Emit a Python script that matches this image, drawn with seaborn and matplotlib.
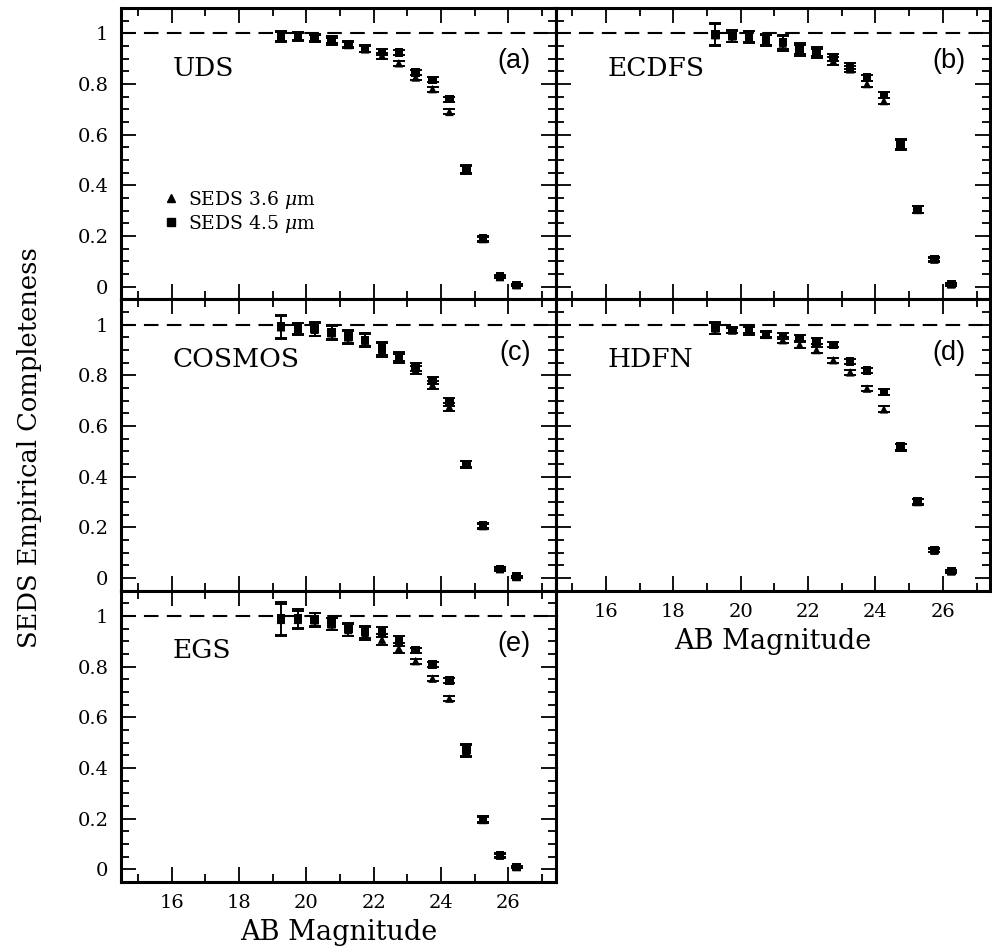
import numpy as np
import pandas as pd
import matplotlib
matplotlib.use("Agg")
import matplotlib.pyplot as plt
import seaborn as sns
from matplotlib.lines import Line2D
from matplotlib.ticker import MultipleLocator, FuncFormatter

# ---------------- data ----------------
mag = [19.25, 19.75, 20.25, 20.75, 21.25, 21.75, 22.25, 22.75,
       23.25, 23.75, 24.25, 24.75, 25.25, 25.75, 26.25]

fields = ["UDS", "ECDFS", "COSMOS", "HDFN", "EGS"]
panel_tags = ["(a)", "(b)", "(c)", "(d)", "(e)"]

uds_45 = [0.988, 0.990, 0.984, 0.976, 0.957, 0.940, 0.927, 0.925, 0.845, 0.816, 0.740, 0.464, 0.190, 0.040, 0.007]
uds_36 = [0.984, 0.986, 0.980, 0.968, 0.954, 0.937, 0.912, 0.882, 0.826, 0.780, 0.690, 0.460, 0.188, 0.038, 0.006]
uds_err = [0.020, 0.015, 0.015, 0.015, 0.012, 0.012, 0.012, 0.010, 0.010, 0.010, 0.010, 0.015, 0.010, 0.005, 0.004]

ecdfs_45 = [0.996, 0.990, 0.987, 0.976, 0.965, 0.940, 0.930, 0.905, 0.870, 0.825, 0.756, 0.562, 0.306, 0.109, 0.010]
ecdfs_36 = [0.993, 0.988, 0.985, 0.972, 0.960, 0.933, 0.920, 0.890, 0.858, 0.800, 0.733, 0.558, 0.303, 0.107, 0.009]
ecdfs_err = [0.043, 0.023, 0.023, 0.023, 0.028, 0.022, 0.018, 0.015, 0.012, 0.012, 0.012, 0.020, 0.014, 0.008, 0.005]

cosmos_45 = [0.992, 0.985, 0.983, 0.970, 0.953, 0.940, 0.907, 0.875, 0.834, 0.780, 0.695, 0.450, 0.207, 0.036, 0.005]
cosmos_36 = [0.990, 0.983, 0.980, 0.966, 0.950, 0.937, 0.900, 0.865, 0.822, 0.762, 0.675, 0.448, 0.205, 0.035, 0.004]
cosmos_err = [0.045, 0.023, 0.026, 0.028, 0.026, 0.026, 0.026, 0.018, 0.015, 0.015, 0.015, 0.012, 0.010, 0.006, 0.004]

hdfn_45 = [0.987, 0.979, 0.983, 0.963, 0.956, 0.946, 0.934, 0.920, 0.855, 0.818, 0.735, 0.518, 0.301, 0.110, 0.027]
hdfn_36 = [0.985, 0.977, 0.975, 0.960, 0.939, 0.921, 0.900, 0.860, 0.812, 0.748, 0.666, 0.515, 0.300, 0.108, 0.026]
hdfn_err = [0.022, 0.010, 0.015, 0.012, 0.012, 0.012, 0.012, 0.010, 0.010, 0.010, 0.012, 0.012, 0.010, 0.007, 0.005]

egs_45 = [0.990, 0.990, 0.986, 0.970, 0.948, 0.937, 0.937, 0.901, 0.865, 0.808, 0.745, 0.472, 0.197, 0.056, 0.010]
egs_36 = [0.985, 0.985, 0.983, 0.967, 0.945, 0.930, 0.907, 0.872, 0.822, 0.753, 0.674, 0.468, 0.195, 0.054, 0.009]
egs_err = [0.064, 0.036, 0.027, 0.024, 0.025, 0.025, 0.020, 0.020, 0.010, 0.010, 0.010, 0.023, 0.012, 0.008, 0.005]

c45 = [uds_45, ecdfs_45, cosmos_45, hdfn_45, egs_45]
c36 = [uds_36, ecdfs_36, cosmos_36, hdfn_36, egs_36]
errs = [uds_err, ecdfs_err, cosmos_err, hdfn_err, egs_err]

# ---------------- style ----------------
sns.set_theme(style="ticks")
plt.rcParams["font.family"] = ["DejaVu Serif"]
plt.rcParams["mathtext.fontset"] = "dejavuserif"
plt.rcParams["text.color"] = "black"
plt.rcParams["axes.labelcolor"] = "black"
plt.rcParams["xtick.color"] = "black"
plt.rcParams["ytick.color"] = "black"

fig = plt.figure(figsize=(9.92, 9.52), dpi=100)
gs = fig.add_gridspec(3, 2, left=121/992, right=990/992, top=1-8/952, bottom=1-882/952,
                      wspace=0, hspace=0)
positions = [(0, 0), (0, 1), (1, 0), (1, 1), (2, 0)]

for i, (r, c) in enumerate(positions):
    ax = fig.add_subplot(gs[r, c])
    df = pd.DataFrame({
        "mag": mag * 2,
        "comp": list(c36[i]) + list(c45[i]),
        "err": list(errs[i]) * 2,
        "band": ["3.6"] * len(mag) + ["4.5"] * len(mag),
    })
    ax.axhline(1.0, color="black", lw=1.5, ls=(0, (7, 4)), zorder=1)
    for band in ["3.6", "4.5"]:
        sub = df[df.band == band]
        ax.errorbar(sub["mag"], sub["comp"], yerr=sub["err"], fmt="none",
                    ecolor="black", elinewidth=1.2, capsize=4.5, capthick=1.4, zorder=2)
    sns.scatterplot(data=df, x="mag", y="comp", style="band",
                    markers={"3.6": "^", "4.5": "s"}, color="black",
                    s=38, edgecolor="black", linewidth=0, legend=False, ax=ax, zorder=3)

    ax.set_xlim(14.5, 27.4)
    ax.set_ylim(-0.05, 1.1)
    ax.xaxis.set_major_locator(MultipleLocator(2))
    ax.xaxis.set_minor_locator(MultipleLocator(1))
    ax.yaxis.set_major_locator(MultipleLocator(0.2))
    ax.yaxis.set_minor_locator(MultipleLocator(0.05))
    ax.tick_params(which="both", direction="in", top=True, right=True, width=1.3, color="black")
    ax.tick_params(which="major", length=11)
    ax.tick_params(which="minor", length=5.5)
    ax.tick_params(axis="both", labelsize=14, pad=9, labelcolor="black")
    for sp in ax.spines.values():
        sp.set_linewidth(2.2)
        sp.set_color("black")

    ax.yaxis.set_major_formatter(FuncFormatter(lambda v, p: "%g" % round(v, 2)))
    if c == 1:
        ax.set_yticklabels([])
    if i in (3, 4):
        ax.set_xlabel("AB Magnitude", fontsize=19.5, labelpad=5, color="black")
    else:
        ax.set_xticklabels([])
        ax.set_xlabel("")
    ax.set_ylabel("")

    ax.text(0.119, 0.793, fields[i], transform=ax.transAxes, fontsize=19,
            ha="left", va="center", color="black")
    ax.text(0.943, 0.817, panel_tags[i], transform=ax.transAxes, fontsize=19.5,
            ha="right", va="center", color="black", family=["Liberation Sans", "DejaVu Sans"])

    if i == 0:
        handles = [Line2D([], [], ls="none", marker="^", color="black", markersize=5.5),
                   Line2D([], [], ls="none", marker="s", color="black", markersize=5.5)]
        ax.legend(handles, [r"SEDS 3.6 $\mu$m", r"SEDS 4.5 $\mu$m"], frameon=False,
                  loc="center left", bbox_to_anchor=(0.08, 0.30), fontsize=13.5,
                  handlelength=0.8, handletextpad=0.5, labelspacing=0.1, borderaxespad=0,
                  labelcolor="black")

fig.text(30/992, 1-448/952, "SEDS Empirical Completeness", rotation=90, fontsize=18.5,
         ha="center", va="center", color="black")

fig.savefig("out.png", dpi=100)
